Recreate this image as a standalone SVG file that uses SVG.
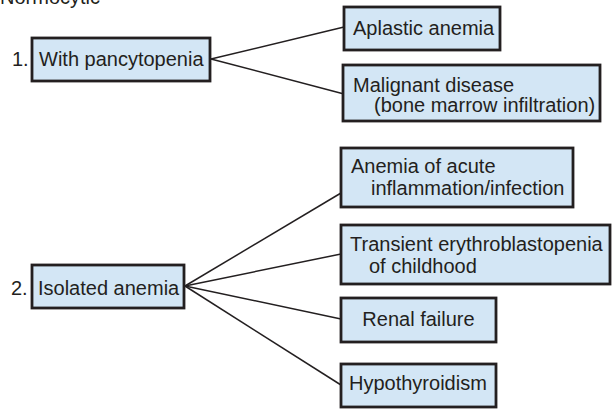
<svg xmlns="http://www.w3.org/2000/svg" width="614" height="411" viewBox="0 0 614 411">
<style>
text{font-family:"Liberation Sans",Arial,sans-serif;font-size:20px;fill:#231f20}
.box{fill:#d3e6f5;stroke:#231f20;stroke-width:2.8}
.ln{stroke:#231f20;stroke-width:1.5;fill:none}
</style>
<rect width="614" height="411" fill="#fff"/>
<text x="0" y="4">Normocytic</text>
<g id="connectors">
<line class="ln" x1="211" y1="59" x2="344" y2="27"/>
<line class="ln" x1="211" y1="59" x2="344" y2="94"/>
<line class="ln" x1="185" y1="286" x2="341" y2="193"/>
<line class="ln" x1="185" y1="286" x2="341" y2="254"/>
<line class="ln" x1="185" y1="286" x2="341" y2="319"/>
<line class="ln" x1="185" y1="286" x2="341" y2="385"/>
</g>
<g id="pancytopenia">
<text x="12" y="66">1.</text>
<rect class="box" x="32" y="38" width="178" height="43"/>
<text x="39" y="66">With pancytopenia</text>
</g>
<g id="aplastic">
<rect class="box" x="344" y="7" width="156" height="43"/>
<text x="353" y="35">Aplastic anemia</text>
</g>
<g id="malignant">
<rect class="box" x="343" y="65" width="257" height="56"/>
<text x="353" y="92">Malignant disease</text>
<text x="374" y="112">(bone marrow infiltration)</text>
</g>
<g id="isolated">
<text x="11" y="295">2.</text>
<rect class="box" x="32" y="265" width="152" height="43"/>
<text x="38" y="295">Isolated anemia</text>
</g>
<g id="acute">
<rect class="box" x="341" y="148" width="232" height="59"/>
<text x="351" y="173">Anemia of acute</text>
<text x="371" y="195">inflammation/infection</text>
</g>
<g id="transient">
<rect class="box" x="341" y="225" width="269" height="59"/>
<text x="350" y="251">Transient erythroblastopenia</text>
<text x="369" y="273">of childhood</text>
</g>
<g id="renal">
<rect class="box" x="341" y="298" width="155" height="44"/>
<text x="418.5" y="326" text-anchor="middle">Renal failure</text>
</g>
<g id="hypothyroidism">
<rect class="box" x="341" y="364" width="155" height="43"/>
<text x="349" y="390">Hypothyroidism</text>
</g>
</svg>
